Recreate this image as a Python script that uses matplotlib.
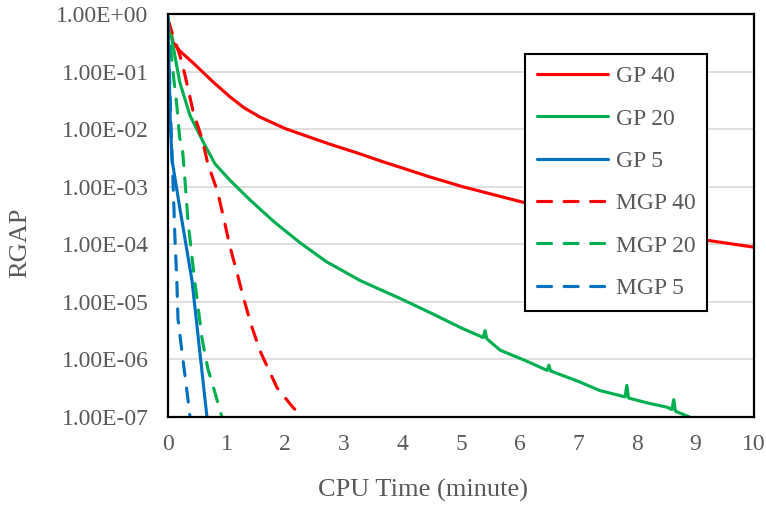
import matplotlib
import matplotlib.pyplot as plt
import numpy as np
from matplotlib.ticker import FixedLocator, FuncFormatter, NullLocator

matplotlib.use("Agg")

plt.rcParams["font.family"] = ["Liberation Serif", "DejaVu Serif"]

# CPU time (minute) and log10(RGAP)
gp40_t = [0, 0.03, 0.085, 0.2, 0.43, 0.77, 1.06, 1.3, 1.57, 2.0, 2.42, 2.76, 3.28,
          3.62, 4.47, 5.03, 6.06, 7.0, 8.0, 9.2, 10.0]
gp40_log = [-0.12, -0.2, -0.49, -0.64, -0.85, -1.18, -1.44, -1.63, -1.79, -1.99,
            -2.14, -2.26, -2.43, -2.55, -2.83, -3.0, -3.27, -3.48, -3.69, -3.93,
            -4.05]

gp20_t = [0, 0.03, 0.085, 0.2, 0.375, 0.6, 0.8, 1.06, 1.4, 1.8, 2.25, 2.7, 3.28,
          3.96, 4.5, 5.0, 5.38, 5.41, 5.44, 5.67, 6.1, 6.47, 6.5, 6.53, 7.0, 7.37,
          7.8, 7.83, 7.86, 8.2, 8.52, 8.6, 8.63, 8.66, 8.9]
gp20_log = [-0.12, -0.2, -0.54, -1.18, -1.76, -2.22, -2.6, -2.89, -3.23, -3.6,
            -3.97, -4.3, -4.63, -4.94, -5.2, -5.45, -5.62, -5.5, -5.64, -5.84,
            -6.02, -6.19, -6.1, -6.2, -6.38, -6.54, -6.65, -6.45, -6.67, -6.76,
            -6.83, -6.87, -6.7, -6.9, -7.0]

gp5_t = [0, 0.02, 0.04, 0.07, 0.2, 0.41, 0.665]
gp5_log = [-0.05, -1.0, -1.9, -2.54, -3.36, -4.63, -7.0]

mgp40_t = [0, 0.03, 0.2, 0.29, 0.43, 0.58, 0.68, 0.85, 0.94, 1.06, 1.18, 1.28,
           1.42, 1.57, 1.86, 2.13, 2.3]
mgp40_log = [-0.1, -0.2, -0.71, -1.06, -1.7, -2.16, -2.6, -3.1, -3.5, -4.05,
             -4.5, -4.9, -5.4, -5.85, -6.49, -6.83, -7.0]

mgp20_t = [0, 0.085, 0.15, 0.2, 0.24, 0.29, 0.34, 0.41, 0.46, 0.58, 0.68, 0.8, 0.92]
mgp20_log = [-0.1, -1.0, -1.58, -2.16, -2.25, -2.89, -3.58, -4.23, -4.66, -5.63,
             -6.16, -6.57, -7.0]

mgp5_t = [0, 0.03, 0.06, 0.085, 0.12, 0.15, 0.17, 0.24, 0.29, 0.36, 0.375]
mgp5_log = [-0.05, -1.2, -2.2, -2.89, -3.93, -4.6, -5.29, -5.88, -6.28, -6.85, -7.0]

series = [
    ("GP 40", gp40_t, gp40_log, "#FF0000", "-"),
    ("GP 20", gp20_t, gp20_log, "#00B050", "-"),
    ("GP 5", gp5_t, gp5_log, "#0070C0", "-"),
    ("MGP 40", mgp40_t, mgp40_log, "#FF0000", (0, (4.5, 4))),
    ("MGP 20", mgp20_t, mgp20_log, "#00B050", (0, (4.5, 4))),
    ("MGP 5", mgp5_t, mgp5_log, "#0070C0", (0, (4.5, 4))),
]

x_ticks = list(range(0, 11))
y_ticks = [10.0 ** e for e in range(-7, 1)]
text_gray = "#595959"

fig = plt.figure(figsize=(7.66, 5.08), dpi=100)
ax = fig.add_axes([0.2193, 0.1791, 0.7650, 0.7933])

for label, t, lg, color, ls in series:
    ax.plot(t, 10.0 ** np.array(lg), color=color, linestyle=ls, linewidth=2.25,
            label=label, dash_capstyle="round", solid_capstyle="round")

ax.set_yscale("log")
ax.set_xlim(0, 10)
ax.set_ylim(1e-7, 1)
ax.xaxis.set_major_locator(FixedLocator(x_ticks))
ax.yaxis.set_major_locator(FixedLocator(y_ticks))
ax.yaxis.set_minor_locator(NullLocator())
ax.yaxis.set_major_formatter(FuncFormatter(lambda v, _: f"{v:.2E}"))
ax.tick_params(axis="both", length=0, labelsize=17, labelcolor=text_gray)
ax.tick_params(axis="y", pad=14)
ax.tick_params(axis="x", pad=12)
ax.grid(axis="y", color="#D9D9D9", linewidth=1.2)
ax.set_axisbelow(True)
for side in ax.spines.values():
    side.set_color("black")
    side.set_linewidth(1.6)

fig.text(423 / 766, 1 - 490 / 508, "CPU Time (minute)", fontsize=19,
         color=text_gray, ha="center", va="center")
fig.text(20 / 766, 1 - 243 / 508, "RGAP", fontsize=19, color=text_gray,
         ha="center", va="center", rotation=90)

leg = ax.legend(loc="upper left", bbox_to_anchor=(525 / 766, 1 - 54 / 508),
                bbox_transform=fig.transFigure, fontsize=17, frameon=True,
                fancybox=False, handlelength=3.0, handletextpad=0.35,
                labelspacing=0.88, borderpad=0.5, borderaxespad=0)
leg.get_frame().set_edgecolor("black")
leg.get_frame().set_linewidth(1.5)
leg.get_frame().set_alpha(1)
for txt in leg.get_texts():
    txt.set_color(text_gray)

fig.savefig("out.png", dpi=100)
